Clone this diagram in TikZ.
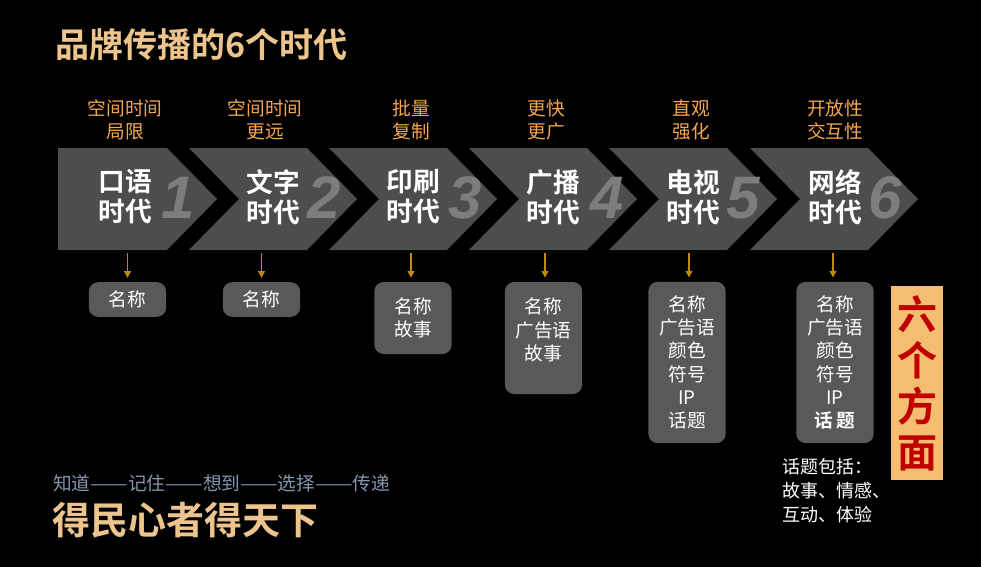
\documentclass[tikz,border=0pt]{standalone}
\usepackage{fontspec}
\usepackage{xcolor}
\usetikzlibrary{arrows.meta}
\setmainfont{Noto Sans CJK SC}[BoldFont={Noto Sans CJK SC Bold}]
\newfontfamily\numfont{Liberation Sans}

\definecolor{chevgray}{RGB}{77,77,77}
\definecolor{numgray}{RGB}{125,125,125}
\definecolor{toptext}{RGB}{245,166,80}
\definecolor{arrowgold}{RGB}{191,137,20}
\definecolor{boxgray}{RGB}{89,89,89}
\definecolor{sidefill}{RGB}{245,189,112}
\definecolor{sidered}{RGB}{192,0,0}
\definecolor{slategray}{RGB}{132,150,176}
\definecolor{goldtxt}{RGB}{236,196,140}

\begin{document}
\begin{tikzpicture}[x=0.75pt, y=-0.75pt,
  eralabel/.style={text=white, font=\fontsize{20}{22.5}\selectfont\bfseries, align=center},
  eranum/.style={text=numgray, font=\numfont\fontsize{45}{45}\selectfont\bfseries\itshape},
  feature/.style={text=toptext, font=\fontsize{14}{17}\selectfont, align=center},
  aspect/.style={fill=boxgray, rounded corners=7pt, text=white, minimum width=58pt,
    inner sep=0pt, align=center, font=\fontsize{14}{17.5}\selectfont},
  down/.style={draw=arrowgold, line width=1.1pt, shorten >=3pt,
    -{Triangle[width=5pt,length=5pt]}}
]
  % Background
  \fill[black] (0,0) rectangle (981,567);
  \useasboundingbox (0,0) rectangle (981,567);

  % Title
  \node[anchor=west, text=goldtxt, font=\fontsize{25.5}{26}\selectfont\bfseries] (title) at (51,45) {品牌传播的6个时代};

  % Chevron macro
  % #1=x offset, #2=left inset, #3=notch depth
  \newcommand{\chevron}[3]{%
    \fill[chevgray] (#1+#2,148) -- (#1+118,148) -- (#1+168,199) -- (#1+118,250)
      -- (#1+#2,250) -- (#1+#3,199) -- cycle;
  }

  \chevron{49}{9}{9}
  \chevron{189}{0}{50}
  \chevron{329}{0}{50}
  \chevron{469}{0}{50}
  \chevron{609}{0}{50}
  \chevron{750}{0}{50}

  % Era numbers
  \node[eranum] (n1) at (178,198) {1};
  \node[eranum] (n2) at (324,198) {2};
  \node[eranum] (n3) at (465,198) {3};
  \node[eranum] (n4) at (607,198) {4};
  \node[eranum] (n5) at (743,198) {5};
  \node[eranum] (n6) at (885,198) {6};

  % Era names
  \node[eralabel] (e1) at (125,197) {口语\\时代};
  \node[eralabel] (e2) at (273,197) {文字\\时代};
  \node[eralabel] (e3) at (413,197) {印刷\\时代};
  \node[eralabel] (e4) at (553,197) {广播\\时代};
  \node[eralabel] (e5) at (693,197) {电视\\时代};
  \node[eralabel] (e6) at (835,197) {网络\\时代};

  % Features above
  \node[feature] (f1) at (125,120) {空间时间\\局限};
  \node[feature] (f2) at (265,120) {空间时间\\更远};
  \node[feature] (f3) at (411,120) {批量\\复制};
  \node[feature] (f4) at (546,120) {更快\\更广};
  \node[feature] (f5) at (691,120) {直观\\强化};
  \node[feature] (f6) at (835,120) {开放性\\交互性};

  % Aspect boxes
  \node[aspect, minimum height=26pt] (b1) at (127.5,299.5) {名称};
  \node[aspect, minimum height=26pt] (b2) at (261.5,299.5) {名称};
  \node[aspect, minimum height=54pt] (b3) at (413,318) {名称\\故事};
  \node[aspect, minimum height=84pt, text depth=13pt] (b4) at (543.5,338) {名称\\广告语\\故事};
  \node[aspect, minimum height=121pt] (b5) at (687,362.5) {名称\\广告语\\颜色\\符号\\IP\\话题};
  \node[aspect, minimum height=121pt] (b6) at (835,362.5) {名称\\广告语\\颜色\\符号\\IP\\\textbf{话\,题}};

  % Arrows
  \coordinate (c1) at (127.5,253);
  \coordinate (c2) at (261.5,253);
  \coordinate (c3) at (411,253);
  \coordinate (c4) at (545,253);
  \coordinate (c5) at (689,253);
  \coordinate (c6) at (833,253);
  \draw[down] (c1) -- (c1 |- b1.north);
  \draw[down] (c2) -- (c2 |- b2.north);
  \draw[down] (c3) -- (c3 |- b3.north);
  \draw[down] (c4) -- (c4 |- b4.north);
  \draw[down] (c5) -- (c5 |- b5.north);
  \draw[down] (c6) -- (c6 |- b6.north);

  % Six aspects
  \node[fill=sidefill, text=sidered, minimum width=39pt, minimum height=145.5pt, inner sep=0pt,
    align=center, font=\fontsize{30}{34.5}\selectfont\bfseries] (six) at (917,383) {六\\个\\方\\面};

  % Topic note
  \node[anchor=north west, text=white, align=left, inner sep=0pt,
    font=\fontsize{13.5}{18}\selectfont] (note) at (782,458) {话题包括：\\故事、情感、\\互动、体验};

  % Bottom slogans
  \node[anchor=west, inner sep=0pt, text=slategray, font=\fontsize{14}{14}\selectfont] (steps) at (53,483)
    {知道\scalebox{1.2}[1]{——}记住\scalebox{1.2}[1]{——}想到\scalebox{1.2}[1]{——}选择\scalebox{1.2}[1]{——}传递};
  \node[anchor=west, inner sep=0pt, text=goldtxt, font=\fontsize{28.5}{29}\selectfont\bfseries] (slogan) at (52,520)
    {得民心者得天下};
\end{tikzpicture}
\end{document}
